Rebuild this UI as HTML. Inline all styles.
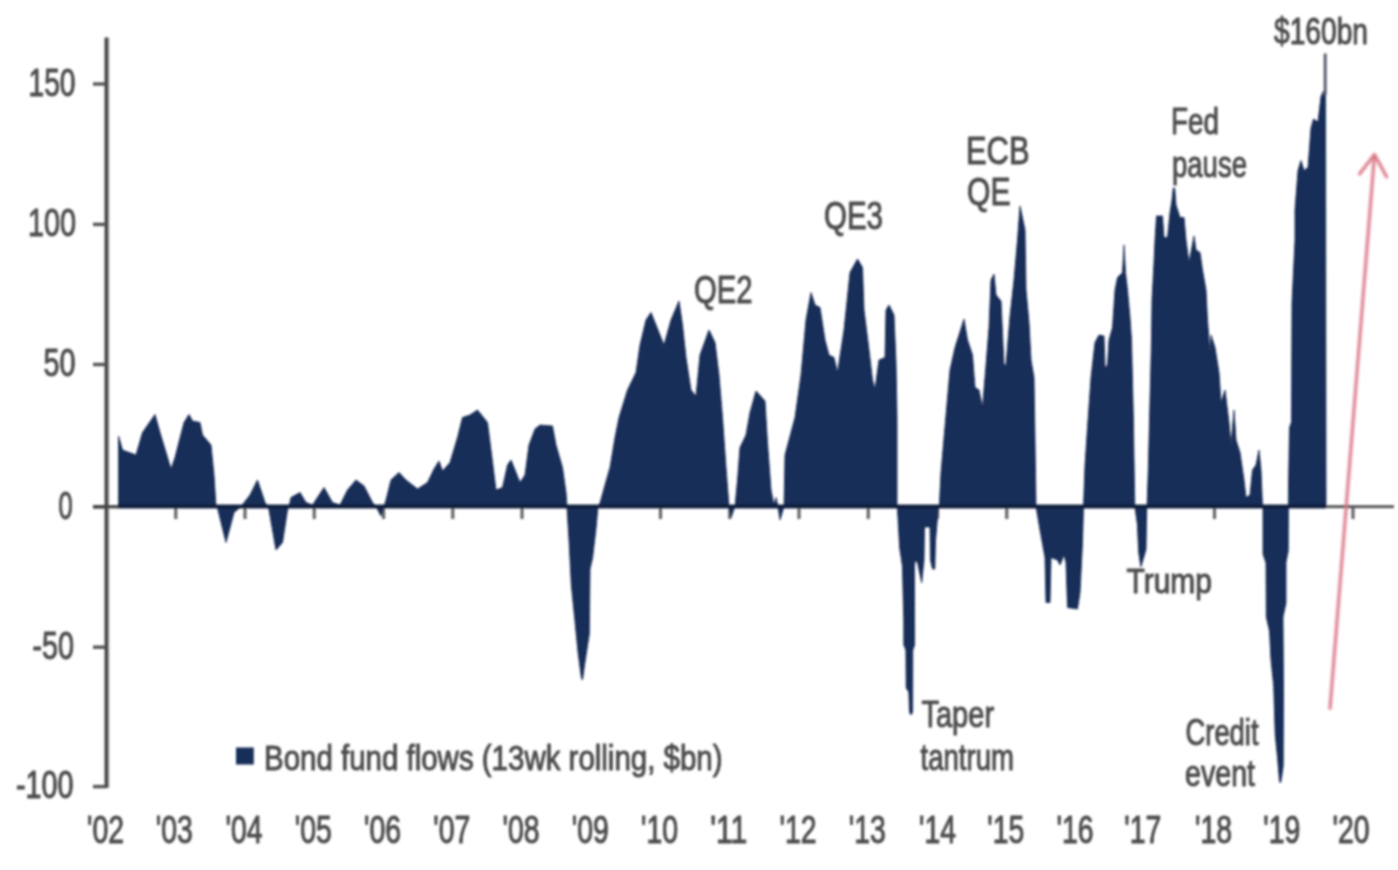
<!DOCTYPE html>
<html lang="en">
<head>
<meta charset="utf-8">
<title>Bond fund flows</title>
<style>
html,body{margin:0;padding:0;background:#fff;}
body{width:1398px;height:870px;overflow:hidden;}
svg{display:block;}
text{font-family:"Liberation Sans",Arial,Helvetica,sans-serif;fill:#4c4c4c;stroke:#4c4c4c;stroke-width:1.0px;stroke-linejoin:round;}
</style>
</head>
<body>
<svg width="1398" height="870" viewBox="0 0 1398 870">
<defs>
<filter id="soft" x="-2%" y="-2%" width="104%" height="104%"><feGaussianBlur stdDeviation="0.9"/></filter>
<filter id="softt" x="-2%" y="-2%" width="104%" height="104%"><feGaussianBlur stdDeviation="1.3"/></filter>
<filter id="softa" x="-20%" y="-2%" width="140%" height="104%"><feGaussianBlur stdDeviation="1.4"/></filter>
</defs>
<rect width="1398" height="870" fill="#fff"/>
<g filter="url(#soft)"><rect x="104.6" y="37.5" width="3.5" height="750.5" fill="#3f3f3f"/>
<rect x="108.1" y="37.5" width="1.2" height="750.5" fill="#9a9a9a"/>
<rect x="93" y="82.3" width="13" height="3.4" fill="#555"/>
<rect x="93" y="222.7" width="13" height="3.4" fill="#555"/>
<rect x="93" y="362.8" width="13" height="3.4" fill="#555"/>
<rect x="93" y="505.1" width="13" height="3.4" fill="#555"/>
<rect x="93" y="645.5" width="13" height="3.4" fill="#555"/>
<rect x="93" y="784.9" width="13" height="3.4" fill="#555"/>
<rect x="174.15" y="507" width="3.2" height="12" fill="#666"/>
<rect x="243.4" y="507" width="3.2" height="12" fill="#666"/>
<rect x="312.65" y="507" width="3.2" height="12" fill="#666"/>
<rect x="381.9" y="507" width="3.2" height="12" fill="#666"/>
<rect x="451.15" y="507" width="3.2" height="12" fill="#666"/>
<rect x="520.4" y="507" width="3.2" height="12" fill="#666"/>
<rect x="589.65" y="507" width="3.2" height="12" fill="#666"/>
<rect x="658.9" y="507" width="3.2" height="12" fill="#666"/>
<rect x="728.15" y="507" width="3.2" height="12" fill="#666"/>
<rect x="797.4" y="507" width="3.2" height="12" fill="#666"/>
<rect x="866.65" y="507" width="3.2" height="12" fill="#666"/>
<rect x="935.9" y="507" width="3.2" height="12" fill="#666"/>
<rect x="1005.15" y="507" width="3.2" height="12" fill="#666"/>
<rect x="1074.4" y="507" width="3.2" height="12" fill="#666"/>
<rect x="1143.65" y="507" width="3.2" height="12" fill="#666"/>
<rect x="1212.9" y="507" width="3.2" height="12" fill="#666"/>
<rect x="1282.15" y="507" width="3.2" height="12" fill="#666"/>
<rect x="1351.4" y="507" width="3.2" height="12" fill="#666"/>
<path d="M118.5,506.5 L118.5,436 L122.5,450 L136,455 L142.5,432.5 L155,414.5 L160,432.5 L171,469 L175,457.5 L184,422.5 L189,414.5 L192.5,421 L200,422.5 L202.5,435 L211,445 L214,475 L216,506.5 L217.5,508 L226,542.5 L234,512.5 L241,506.5 L250,495 L257.5,480 L265,502.5 L268,506.5 L269,510 L276,550 L282.5,542.5 L287.5,510 L289,506.5 L291,497.5 L300,492.5 L306,502.5 L312.5,505 L324,487.5 L332.5,502.5 L340,505 L347.5,490 L356,480 L364,486 L372.5,502.5 L376,506.5 L381,516 L384,506.5 L386,500 L391,480 L399,472.5 L406,480 L417.5,489 L427.5,482.5 L434,469 L439,461 L442.5,471 L450,462.5 L457.5,437.5 L462.5,417.5 L470,415 L477.5,410 L487.5,422.5 L491,450 L496,490 L502.5,487.5 L507.5,465 L511,460 L515,470 L520,482.5 L525,475 L529,445 L535,429 L540,425 L552.5,426 L556,445 L562.5,467.5 L566,492.5 L567,506.5 L567,508 L569,540 L571.3,584.7 L574.7,618.4 L578,652 L581.4,678 L582.5,680 L584.8,663.3 L589.3,634 L590,569 L592.6,557.8 L596,528.6 L598,506.5 L600,503 L605,485 L610,467.5 L615,437.5 L619,417.5 L627.5,390 L636,372.5 L640,345 L646,320 L651,312.5 L656,325 L664,345 L671,320 L679,301 L682.5,325 L686,357.5 L691,390 L696,396 L700,355 L709,330 L715,342.5 L719,375 L722.5,417.5 L726,467.5 L729,506.5 L731,517.5 L735,506.5 L737.5,480 L740,447.5 L746,435 L750,412.5 L756,391 L765,401 L767.5,442.5 L771,490 L774,505 L776,497.5 L778,506.5 L780,520 L784,506.5 L785,455 L789,440 L795,417.5 L801,375 L806,320 L811,292.5 L815,305 L820,307.5 L825,340 L829,355 L834,357.5 L837.5,372.5 L844,330 L850,272.5 L857.5,259 L862.5,267.5 L864,310 L869,350 L872.5,380 L875,389 L879,360 L885,357.5 L886,310 L889,305 L894,315 L896,362.5 L897,417.5 L897,506.5 L897.3,506.5 L899.7,548 L902.4,566 L903.8,620 L903.8,645 L905.9,650 L906.2,688 L908.8,692 L909.5,712 L911,715 L912.6,712 L912.8,650 L914.6,645 L914.4,565 L915.5,560 L917.6,563 L921.7,582.8 L924,560 L924.5,527 L930,527 L930.5,560 L932.5,569 L934.8,569 L935.5,541 L938.3,508 L939.3,506.5 L941,472.5 L946,415 L950,370 L955,347.5 L959,335 L964,319 L967.5,340 L972.5,355 L975,387.5 L979,390 L982.5,407.5 L986,365 L989,327.5 L991,280 L994,274 L996,295 L1001,301 L1004,365 L1006,365 L1010,316 L1014,280 L1017.5,240 L1020,206 L1025,230 L1026,290 L1029,322.5 L1031,360 L1034,377.5 L1035,440 L1036,506.5 L1040,530 L1045,557.5 L1046,602.5 L1050,602.5 L1051,557.5 L1057.5,560 L1060,565 L1064,555 L1066,562.5 L1067.5,607.5 L1077.5,609 L1080,592.5 L1082.5,542.5 L1083.5,506.5 L1085,465 L1087.5,427.5 L1091,377.5 L1095,342.5 L1099,335 L1104,336 L1105,367.5 L1107.5,365 L1109,340 L1112.5,327.5 L1115,290 L1117.5,277.5 L1122.5,272.5 L1124,245 L1125.5,272.5 L1127.5,290 L1130,317.5 L1131.5,340 L1133.3,415 L1134.8,506.5 L1135.2,509 L1137.3,523.7 L1138.7,552.5 L1140.9,567 L1143.8,557 L1146,549.6 L1146.7,506.5 L1147,506.5 L1148.3,470 L1150,400 L1151.5,340 L1152,300 L1154,262 L1155,240 L1156.5,216 L1162.5,216 L1164,237.5 L1167.5,237.5 L1170,212.5 L1172,200 L1173.3,188 L1174.7,188 L1176,205 L1180,217.5 L1184,217.5 L1186,240 L1189,262.5 L1194,236 L1196,250 L1200,252.5 L1202.5,270 L1206,290 L1207.5,320 L1210,352.5 L1211,335 L1215,347.5 L1219,372.5 L1221,402.5 L1225,390 L1229,422.5 L1231,445 L1234,410 L1236,440 L1240,452.5 L1244,480 L1246,497.5 L1250,495 L1252.5,470 L1256,465 L1259,450 L1261,470 L1262.5,506.5 L1263,506.5 L1263,554 L1266,563 L1266.3,617 L1269.5,631 L1271,660 L1273.7,686 L1275.2,734.5 L1277.5,757.5 L1279.5,781 L1280.5,783 L1281.5,778 L1283.2,766 L1283.5,690 L1283,617 L1286,603 L1286,562.3 L1288.2,551 L1288.4,506.5 L1288.5,487 L1289.5,427.5 L1291.5,422 L1292,302.5 L1295,240 L1295,210 L1298,170.5 L1301,160.5 L1304,170.5 L1308,167.5 L1311,128 L1313.5,119 L1318,122 L1321,96.5 L1323.5,91 L1325.5,94 L1326,506.5 Z" fill="#182d59" stroke="#14244c" stroke-width="0.8" stroke-linejoin="round"/>
<rect x="93" y="505.1" width="26" height="3.3" fill="#444"/>
<rect x="118" y="504.6" width="1208" height="3.8" fill="#111c3a"/>
<rect x="1326" y="505.2" width="68" height="2.9" fill="#555"/>
<rect x="1323.7" y="53.5" width="3" height="42" fill="#5a5f6e"/><rect x="236" y="747.5" width="17.8" height="17" fill="#182d59"/></g>
<g filter="url(#softa)" stroke="#dc7888" stroke-width="3.1" fill="none" stroke-linecap="round" stroke-linejoin="round"><path d="M1330,708.5 L1374.5,154.5"/><path d="M1359.5,174 L1374.5,154.5 L1386.7,177"/></g>
<g filter="url(#softt)">
<text x="28.50" y="95.70" font-size="38" textLength="47.04" lengthAdjust="spacingAndGlyphs">150</text>
<text x="28.00" y="235.70" font-size="38" textLength="48.04" lengthAdjust="spacingAndGlyphs">100</text>
<text x="43.50" y="376.20" font-size="38" textLength="32.00" lengthAdjust="spacingAndGlyphs">50</text>
<text x="58.50" y="518.70" font-size="38" textLength="14.13" lengthAdjust="spacingAndGlyphs">0</text>
<text x="32.50" y="658.70" font-size="38" textLength="41.52" lengthAdjust="spacingAndGlyphs">-50</text>
<text x="16.00" y="797.70" font-size="38" textLength="57.51" lengthAdjust="spacingAndGlyphs">-100</text>
<text x="87.00" y="842.70" font-size="38" textLength="37.03" lengthAdjust="spacingAndGlyphs">'02</text>
<text x="155.75" y="842.70" font-size="38" textLength="37.00" lengthAdjust="spacingAndGlyphs">'03</text>
<text x="225.50" y="842.70" font-size="38" textLength="37.00" lengthAdjust="spacingAndGlyphs">'04</text>
<text x="294.75" y="842.70" font-size="38" textLength="37.00" lengthAdjust="spacingAndGlyphs">'05</text>
<text x="364.00" y="842.70" font-size="38" textLength="37.03" lengthAdjust="spacingAndGlyphs">'06</text>
<text x="433.25" y="842.70" font-size="38" textLength="37.03" lengthAdjust="spacingAndGlyphs">'07</text>
<text x="502.50" y="842.70" font-size="38" textLength="37.03" lengthAdjust="spacingAndGlyphs">'08</text>
<text x="571.75" y="842.70" font-size="38" textLength="37.00" lengthAdjust="spacingAndGlyphs">'09</text>
<text x="641.00" y="842.70" font-size="38" textLength="37.03" lengthAdjust="spacingAndGlyphs">'10</text>
<text x="710.25" y="842.70" font-size="38" textLength="37.03" lengthAdjust="spacingAndGlyphs">'11</text>
<text x="779.50" y="842.70" font-size="38" textLength="37.03" lengthAdjust="spacingAndGlyphs">'12</text>
<text x="848.75" y="842.70" font-size="38" textLength="37.00" lengthAdjust="spacingAndGlyphs">'13</text>
<text x="919.00" y="842.70" font-size="38" textLength="37.00" lengthAdjust="spacingAndGlyphs">'14</text>
<text x="987.25" y="842.70" font-size="38" textLength="37.00" lengthAdjust="spacingAndGlyphs">'15</text>
<text x="1056.50" y="842.70" font-size="38" textLength="37.03" lengthAdjust="spacingAndGlyphs">'16</text>
<text x="1124.25" y="842.70" font-size="38" textLength="37.03" lengthAdjust="spacingAndGlyphs">'17</text>
<text x="1195.00" y="842.70" font-size="38" textLength="37.03" lengthAdjust="spacingAndGlyphs">'18</text>
<text x="1263.25" y="842.70" font-size="38" textLength="37.00" lengthAdjust="spacingAndGlyphs">'19</text>
<text x="1332.50" y="842.70" font-size="38" textLength="37.00" lengthAdjust="spacingAndGlyphs">'20</text>
<text x="264.00" y="769.70" font-size="35" textLength="458.50" lengthAdjust="spacingAndGlyphs">Bond fund flows (13wk rolling, $bn)</text>
<text x="694.00" y="303.20" font-size="39" textLength="58.51" lengthAdjust="spacingAndGlyphs">QE2</text>
<text x="824.00" y="228.70" font-size="39" textLength="59.01" lengthAdjust="spacingAndGlyphs">QE3</text>
<text x="966.00" y="163.70" font-size="39" textLength="63.54" lengthAdjust="spacingAndGlyphs">ECB</text>
<text x="967.00" y="204.70" font-size="39" textLength="43.51" lengthAdjust="spacingAndGlyphs">QE</text>
<text x="1171.00" y="133.70" font-size="37" textLength="48.05" lengthAdjust="spacingAndGlyphs">Fed</text>
<text x="1172.00" y="176.70" font-size="37" textLength="75.01" lengthAdjust="spacingAndGlyphs">pause</text>
<text x="1274.00" y="44.20" font-size="36" textLength="94.00" lengthAdjust="spacingAndGlyphs">$160bn</text>
<text x="921.50" y="727.20" font-size="36" textLength="72.54" lengthAdjust="spacingAndGlyphs">Taper</text>
<text x="920.50" y="769.70" font-size="36" textLength="93.50" lengthAdjust="spacingAndGlyphs">tantrum</text>
<text x="1126.50" y="592.70" font-size="35" textLength="85.51" lengthAdjust="spacingAndGlyphs">Trump</text>
<text x="1185.50" y="744.70" font-size="36" textLength="73.02" lengthAdjust="spacingAndGlyphs">Credit</text>
<text x="1185.00" y="785.70" font-size="36" textLength="70.02" lengthAdjust="spacingAndGlyphs">event</text>
</g>
</svg>
</body>
</html>
